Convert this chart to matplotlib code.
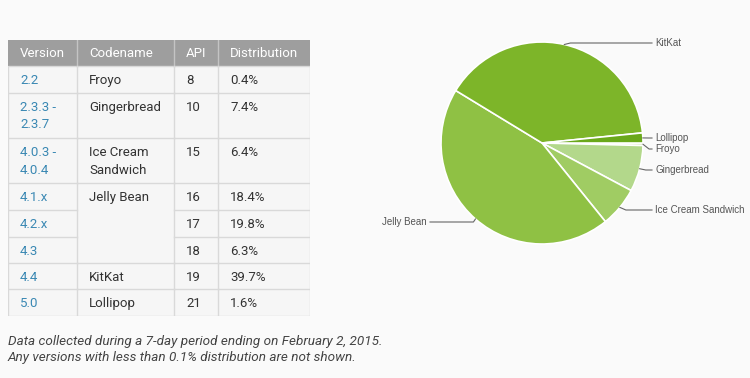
import numpy as np
from matplotlib import pyplot as plt
from matplotlib.patches import Rectangle

#Data
versions = ['2.2', '2.3.3 -\n2.3.7', '4.0.3 -\n4.0.4', '4.1.x', '4.2.x', '4.3', '4.4', '5.0']
codenames = ['Froyo', 'Gingerbread', 'Ice Cream\nSandwich', 'Jelly Bean', '', '', 'KitKat', 'Lollipop']
api = [8, 10, 15, 16, 17, 18, 19, 21]
distribution = [0.4, 7.4, 6.4, 18.4, 19.8, 6.3, 39.7, 1.6]
headers = ['Version', 'Codename', 'API', 'Distribution']

pie_labels = ['Froyo', 'Gingerbread', 'Ice Cream Sandwich', 'Jelly Bean', 'KitKat', 'Lollipop']
pie_values = [0.4, 7.4, 6.4, 18.4 + 19.8 + 6.3, 39.7, 1.6]
pie_colors = ['#c8e3a6', '#b3d88b', '#a0cc63', '#8fc144', '#7db529', '#6aa81b']

footnote = ['Data collected during a 7-day period ending on February 2, 2015.',
            'Any versions with less than 0.1% distribution are not shown.']

W, H = 750, 378
bg = '#fafafa'
fig = plt.figure(figsize=(W/100, H/100), dpi=100, facecolor=bg)

#Table (pixel units inside its own axes)
col_w = [69, 97, 44, 92]
row_h = [26, 27, 45, 45, 27, 27, 26, 26, 27]
tw, th = sum(col_w), sum(row_h)
ax_t = fig.add_axes([8/W, 1-(40+th)/H, tw/W, th/H])
ax_t.set_xlim(0, tw)
ax_t.set_ylim(th, 0)
ax_t.axis('off')

xs = np.concatenate([[0], np.cumsum(col_w)])
ys = np.concatenate([[0], np.cumsum(row_h)])
line_c = '#d9d9d9'
font = ['Roboto', 'DejaVu Sans']

#header
ax_t.add_patch(Rectangle((0, 0), tw, row_h[0], facecolor='#9e9e9e', edgecolor='none'))
for j, h in enumerate(headers):
    ax_t.text(xs[j]+12, row_h[0]/2+0.5, h, color='white', fontsize=9.5, va='center', family=font)
    if j > 0:
        ax_t.plot([xs[j], xs[j]], [0, row_h[0]], color='#c4c4c4', lw=1)

#body
ax_t.add_patch(Rectangle((0, ys[1]), tw, th-ys[1], facecolor='#f6f6f6', edgecolor=line_c, lw=1))
for i in range(len(versions)):
    top = ys[i+1]
    if i > 0:
        for j in range(4):
            if j == 1 and codenames[i] == '':
                continue
            ax_t.plot([xs[j], xs[j+1]], [top, top], color=line_c, lw=1)
    vals = [versions[i], codenames[i], str(api[i]), '%.1f%%' % distribution[i]]
    for j, v in enumerate(vals):
        ax_t.text(xs[j]+12, top+8, v, color='#3a88b3' if j == 0 else '#333333',
                  fontsize=9.5, va='top', linespacing=1.45, family=font)
for j in range(1, 4):
    ax_t.plot([xs[j], xs[j]], [ys[1], th], color=line_c, lw=1)

#footnote
for k, s in enumerate(footnote):
    fig.text(8/W, 1-(341+17*k)/H, s, fontsize=9.7, style='italic', color='#444444',
             va='center', family=font)

#Pie
cx, cy, r = 542, 143, 101
ax_p = fig.add_axes([(cx-r)/W, 1-(cy+r)/H, 2*r/W, 2*r/H])
wedges, _ = ax_p.pie(pie_values, colors=pie_colors, startangle=0, counterclock=False,
                     wedgeprops=dict(edgecolor='white', linewidth=1.2), radius=1)
ax_p.set_xlim(-1, 1)
ax_p.set_ylim(-1, 1)

#label y positions in pixels (layout)
label_py = [149, 170, 210, 222, 43, 138]
for w, lab, py in zip(wedges, pie_labels, label_py):
    a = np.deg2rad((w.theta1 + w.theta2)/2)
    ex, ey = np.cos(a), np.sin(a)
    ly = (cy - py)/r
    if ex >= 0:
        lx = (652 - cx)/r
        xs_l = [ex, ex+0.06, lx]
        ax_p.text(lx+0.03, ly, lab, fontsize=7.0, color='#555555', va='center', ha='left',
                  family=['Liberation Sans', 'DejaVu Sans'])
    else:
        lx = (430 - cx)/r
        xs_l = [ex, ex-0.02, lx]
        ax_p.text(lx-0.03, ly, lab, fontsize=7.0, color='#555555', va='center', ha='right',
                  family=['Liberation Sans', 'DejaVu Sans'])
    ax_p.plot(xs_l, [ey, ly, ly], color='#666666', lw=0.8, clip_on=False)

fig.savefig('out.png', dpi=100, facecolor=bg)
